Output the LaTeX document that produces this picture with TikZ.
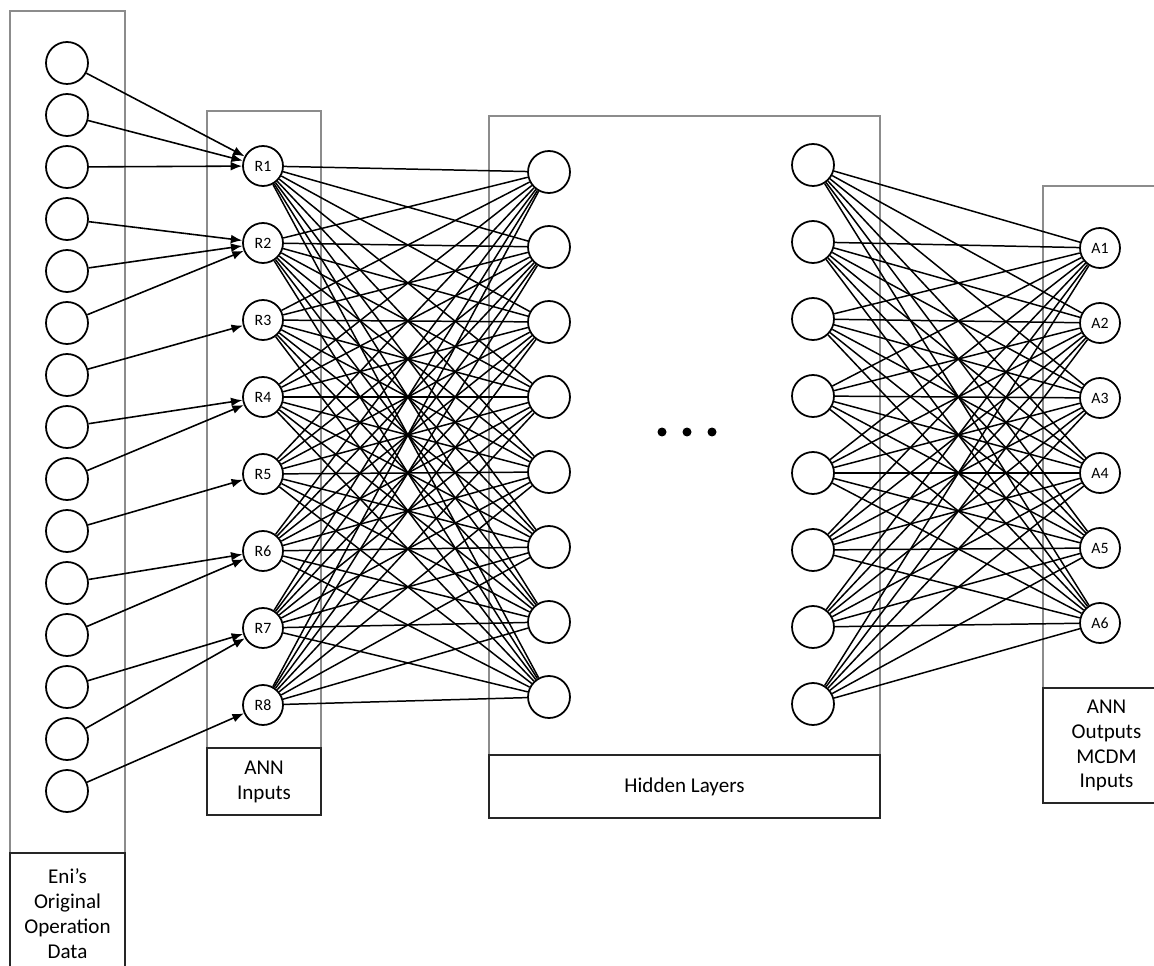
\documentclass[tikz,border=0pt]{standalone}
\usepackage{fontspec}
\setmainfont{Carlito}
\usetikzlibrary{arrows.meta}

\tikzset{
  neuron/.style={draw,circle,line width=1pt,fill=white,inner sep=0pt,minimum size=0.84cm},
  inneuron/.style={neuron,minimum size=0.8cm,font=\fontsize{9}{10}\selectfont},
  frame/.style={draw=black!45,line width=0.9pt},
  tag/.style={draw=black!85,line width=1pt,fill=white,align=center,inner sep=0pt,font=\fontsize{12}{14.2}\selectfont},
  feed/.style={line width=0.9pt,-{Latex[length=6.5pt,width=5pt]}},
  link/.style={line width=0.85pt}
}

\begin{document}
\begin{tikzpicture}[x=0.02cm,y=-0.02cm]
        \useasboundingbox (0,0) rectangle (1154,966);
        % frames
        \draw[frame] (10,11) rectangle (125,985);
        \draw[frame] (207,111) rectangle (321,815);
        \draw[frame] (489,116) rectangle (880,818);
        \draw[frame] (1043,186) rectangle (1170,803);
        % labels
        \node[tag,minimum width=2.3cm,minimum height=2.44cm] (datatag) at (67.5,914) {Eni’s\\Original\\Operation\\Data};
        \node[tag,minimum width=2.28cm,minimum height=1.34cm] (intag) at (264,781.5) {ANN\\Inputs};
        \node[tag,minimum width=7.82cm,minimum height=1.26cm] (hidtag) at (684.5,786.5) {Hidden Layers};
        \node[tag,minimum width=2.54cm,minimum height=2.3cm] (outtag) at (1106.5,745.5) {ANN\\Outputs\\MCDM\\Inputs};
        % neurons
        \foreach \i in {1,...,15}
            \node[neuron] (d\i) at (67,{63+52*(\i-1)}) {};
        \foreach \i in {1,...,8}
            \node[inneuron] (r\i) at (263,{166+77*(\i-1)}) {R\i};
        \foreach \i in {1,...,8}
            \node[neuron] (h\i) at (549,{172+75*(\i-1)}) {};
        \foreach \i in {1,...,8}
            \node[neuron] (g\i) at (813,{165+77*(\i-1)}) {};
        \foreach \i in {1,...,6}
            \node[inneuron] (a\i) at (1100,{248+75*(\i-1)}) {A\i};
        % data -> inputs
        \foreach \s/\t in {1/1,2/1,3/1,4/2,5/2,6/2,7/3,8/4,9/4,10/5,11/6,12/6,13/7,14/7,15/8}
            \draw[feed] (d\s) -- (r\t);
        % inputs -> first hidden layer
        \foreach \i in {1,...,8}
            \foreach \j in {1,...,8}
                \draw[link] (r\i) -- (h\j);
        % last hidden layer -> outputs
        \foreach \i in {1,...,8}
            \foreach \j in {1,...,6}
                \draw[link] (g\i) -- (a\j);
        % dots
        \fill (662,432) circle (0.09cm);
        \fill (687,432) circle (0.09cm);
        \fill (712,432) circle (0.09cm);
    \end{tikzpicture}
\end{document}
